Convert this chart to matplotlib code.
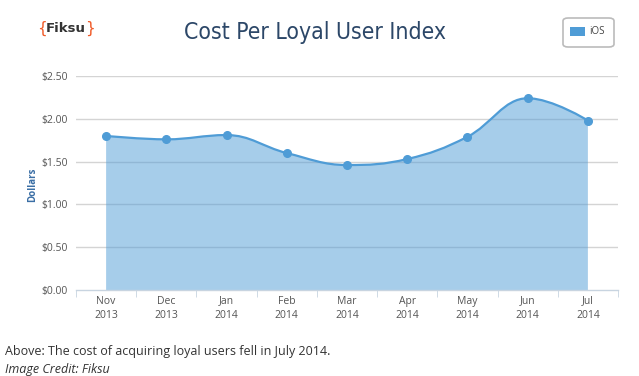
import numpy as np
import matplotlib
matplotlib.use("Agg")
import matplotlib.pyplot as plt
from matplotlib.path import Path
from matplotlib.patches import PathPatch, FancyBboxPatch, Rectangle

months = ["Nov", "Dec", "Jan", "Feb", "Mar", "Apr", "May", "Jun", "Jul"]
years = ["2013", "2013", "2014", "2014", "2014", "2014", "2014", "2014", "2014"]
ios_cost = [1.80, 1.76, 1.81, 1.60, 1.46, 1.53, 1.79, 2.24, 1.98]
yticks = [0.0, 0.5, 1.0, 1.5, 2.0, 2.5]
ytick_labels = ["$0.00", "$0.50", "$1.00", "$1.50", "$2.00", "$2.50"]

W, H = 639, 376
fig = plt.figure(figsize=(W / 100, H / 100), dpi=100)
ax_left, ax_right, ax_bot, ax_top = 76, 618, 290, 76
ax = fig.add_axes([ax_left / W, 1 - ax_bot / H, (ax_right - ax_left) / W, (ax_bot - ax_top) / H])

x = np.arange(len(months), dtype=float)
y = np.array(ios_cost, dtype=float)
ax.set_xlim(-0.5, len(months) - 0.5)
ax.set_ylim(0, 2.5)

# Highcharts-style spline path (in pixel-proportional space)
sx = (ax_right - ax_left) / len(months)
sy = (ax_bot - ax_top) / 2.5
px, py = x * sx, y * sy
smooth = 1.5
n = len(px)
lc = [None] * n
rc = [None] * n
for i in range(1, n - 1):
    lcx = (smooth * px[i] + px[i - 1]) / (smooth + 1)
    lcy = (smooth * py[i] + py[i - 1]) / (smooth + 1)
    rcx = (smooth * px[i] + px[i + 1]) / (smooth + 1)
    rcy = (smooth * py[i] + py[i + 1]) / (smooth + 1)
    corr = ((rcy - lcy) * (rcx - px[i])) / (rcx - lcx) + py[i] - rcy
    lcy += corr
    rcy += corr
    if lcy > max(py[i - 1], py[i]):
        lcy = max(py[i - 1], py[i]); rcy = 2 * py[i] - lcy
    elif lcy < min(py[i - 1], py[i]):
        lcy = min(py[i - 1], py[i]); rcy = 2 * py[i] - lcy
    if rcy > max(py[i + 1], py[i]):
        rcy = max(py[i + 1], py[i]); lcy = 2 * py[i] - rcy
    elif rcy < min(py[i + 1], py[i]):
        rcy = min(py[i + 1], py[i]); lcy = 2 * py[i] - rcy
    lc[i] = (lcx / sx, lcy / sy)
    rc[i] = (rcx / sx, rcy / sy)

verts = [(x[0], y[0])]
codes = [Path.MOVETO]
for i in range(1, n):
    c1 = rc[i - 1] if rc[i - 1] is not None else (x[i - 1], y[i - 1])
    c2 = lc[i] if lc[i] is not None else (x[i], y[i])
    verts += [c1, c2, (x[i], y[i])]
    codes += [Path.CURVE4] * 3

line_path = Path(verts, codes)
fill_verts = verts + [(x[-1], 0), (x[0], 0), (x[0], y[0])]
fill_codes = codes + [Path.LINETO, Path.LINETO, Path.CLOSEPOLY]
fill_path = Path(fill_verts, fill_codes)

blue = "#4f9cd6"
ax.add_patch(PathPatch(fill_path, facecolor=blue, edgecolor="none", alpha=0.5, zorder=3))
ax.add_patch(PathPatch(line_path, facecolor="none", edgecolor=blue, lw=1.6, zorder=4))
ax.plot(x, y, "o", color=blue, ms=5.5, zorder=5)

for t in yticks[1:]:
    ax.axhline(t, color="#d4d4d4", lw=1, zorder=1)

for s in ["top", "right", "left"]:
    ax.spines[s].set_visible(False)
ax.spines["bottom"].set_color("#c8d4e0")
ax.spines["bottom"].set_linewidth(1)
ax.spines["bottom"].set_zorder(6)

ax.set_yticks(yticks)
ax.set_yticklabels(ytick_labels, fontsize=7.5, color="#555555", family="Open Sans")
ax.tick_params(axis="y", length=0, pad=6)
ax.set_xticks(x)
ax.set_xticklabels([f"{m}\n{yr}" for m, yr in zip(months, years)], fontsize=7.5,
                   color="#555555", family="Open Sans", linespacing=1.45)
ax.tick_params(axis="x", length=0, pad=4)
ax.set_xticks(np.arange(len(months) + 1) - 0.5, minor=True)
ax.tick_params(axis="x", which="minor", length=5, color="#c8d4e0")

fig.text(33 / W, 1 - 185 / H, "Dollars", rotation=90, ha="center", va="center",
         fontsize=7, fontweight="bold", color="#3a6ea5", family="Open Sans")

# Title
fig.text(315 / W, 1 - 33 / H, "Cost Per Loyal User Index", ha="center", va="center",
         fontsize=16.5, color="#2c4768", family="DejaVu Sans", fontstretch="condensed")

# Logo
fig.text(37 / W, 1 - 28 / H, "{", ha="left", va="center", fontsize=11, color="#f05a28",
         family="DejaVu Sans")
fig.text(65.5 / W, 1 - 28 / H, "Fiksu", ha="center", va="center", fontsize=9.5, color="#333333",
         fontweight="bold", family="DejaVu Sans")
fig.text(95 / W, 1 - 28 / H, "}", ha="right", va="center", fontsize=11, color="#f05a28",
         family="DejaVu Sans")

# Legend box
fig.patches.append(FancyBboxPatch((563 / W, 1 - 47 / H), 51 / W, 29 / H,
                                  boxstyle="round,pad=0,rounding_size=0.008",
                                  transform=fig.transFigure, facecolor="white",
                                  edgecolor="#bbbbbb", lw=1.2))
fig.patches.append(Rectangle((570 / W, 1 - 36 / H), 15 / W, 9.5 / H, transform=fig.transFigure,
                             facecolor="#4f9cd6", edgecolor="none"))
fig.text(589 / W, 1 - 32 / H, "iOS", ha="left", va="center", fontsize=7, color="#444444",
         family="Open Sans")

# Caption
fig.text(5 / W, 1 - 352 / H, "Above: The cost of acquiring loyal users fell in July 2014.",
         ha="left", va="center", fontsize=9, color="#333333", family="Open Sans")
fig.text(5 / W, 1 - 369 / H, "Image Credit: Fiksu", ha="left", va="center", fontsize=9,
         color="#333333", family="Open Sans", style="italic")

fig.savefig("out.png", dpi=100, facecolor="white")
